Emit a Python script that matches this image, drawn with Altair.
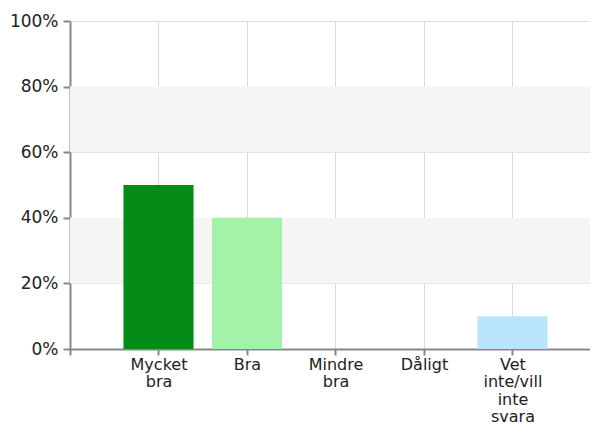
import altair as alt
import pandas as pd

categories = ["Mycket bra", "Bra", "Mindre bra", "Dåligt", "Vet inte/vill inte svara"]
label_lines = [["Mycket", "bra"], ["Bra"], ["Mindre", "bra"], ["Dåligt"], ["Vet", "inte/vill", "inte", "svara"]]
values = [50, 40, 0, 0, 10]
colors = ["#058c18", "#a3f2a9", "#a3f2a9", "#a3f2a9", "#b8e5fc"]
positions = [1, 2, 3, 4, 5]
y_ticks = [0, 20, 40, 60, 80, 100]
band_lo = [20, 60]
band_hi = [40, 80]

df = pd.DataFrame({"cat": categories, "value": values, "pos": positions, "color": colors})
bands = pd.DataFrame({"lo": band_lo, "hi": band_hi})

# build multi-line labels expression
parts = []
for p, lines in zip(positions, label_lines):
    arr = "[" + ",".join("'" + s + "'" for s in lines) + "]"
    parts.append(f"datum.value == {p} ? {arr} : ")
label_expr = "".join(parts) + "''"

xscale = alt.Scale(domain=[0, 5.876], nice=False, zero=False)
yscale = alt.Scale(domain=[0, 100], nice=False)

font = "DejaVu Sans"

xaxis = alt.Axis(values=[0] + positions, labelExpr=label_expr, title=None, grid=True,
                 gridColor="#d9d9d9", domainColor="#888888", tickColor="#888888",
                 tickSize=6, labelPadding=1, labelFontSize=16, labelFont=font,
                 labelColor="#222222", labelLineHeight=17.5, labelAngle=0,
                 domainWidth=2, tickWidth=2)
yaxis = alt.Axis(values=y_ticks, labelExpr="datum.value + '%'", title=None, grid=True,
                 gridColor="#dddddd", domainColor="#888888", tickColor="#888888",
                 tickSize=7, labelPadding=5, labelFontSize=17, labelFont=font,
                 labelColor="#222222", domainWidth=2, tickWidth=2)

band_layer = alt.Chart(bands).mark_rect(color="#f5f5f5").encode(
    y=alt.Y("lo:Q", scale=yscale, axis=yaxis),
    y2="hi:Q",
    x=alt.value(0),
    x2=alt.value(520),
)

bar_layer = alt.Chart(df).transform_calculate(
    x0="datum.pos - 0.396", x1="datum.pos + 0.396"
).mark_rect().encode(
    x=alt.X("x0:Q", scale=xscale, axis=xaxis),
    x2="x1:Q",
    y=alt.Y("value:Q", scale=yscale),
    y2=alt.datum(0),
    color=alt.Color("color:N", scale=None),
)

chart = alt.layer(band_layer, bar_layer).properties(
    width=520, height=328,
    autosize=alt.AutoSizeParams(type="none"),
    padding={"left": 62, "top": 13, "right": 0, "bottom": 78},
).configure_view(stroke=None)

chart.save("out.html", embed_options={"renderer": "svg", "actions": False})
